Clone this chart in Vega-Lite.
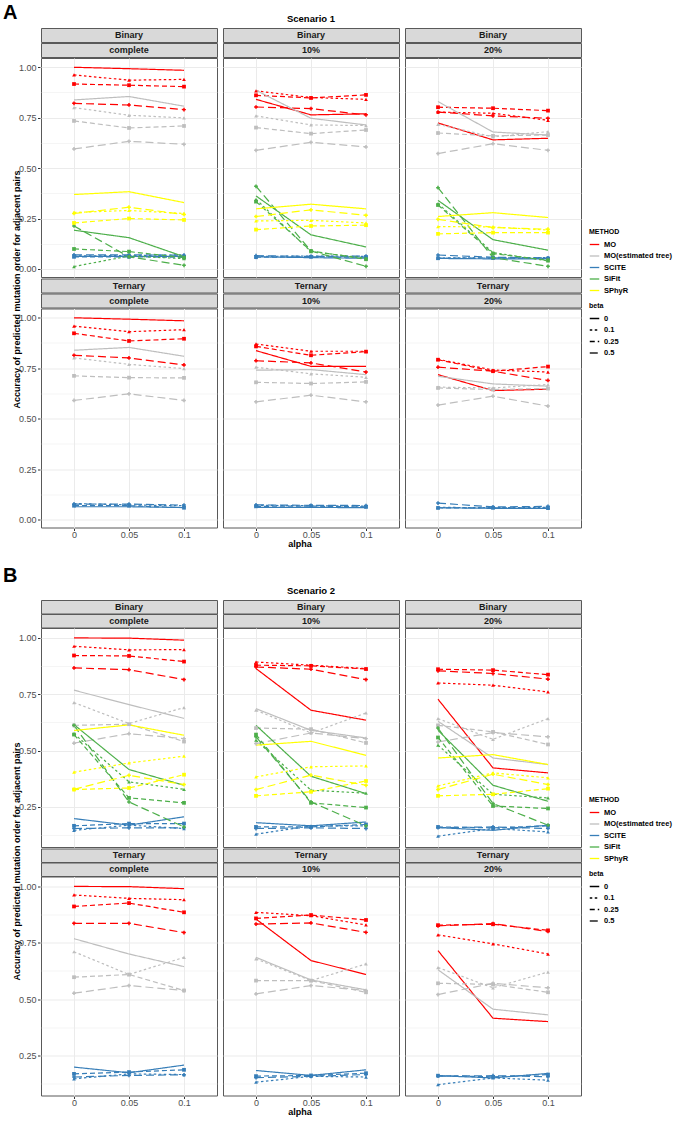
{
"$schema": "https://vega.github.io/schema/vega-lite/v6.json",
"background": "white",
"padding": {"left": 3, "top": 3, "right": 3, "bottom": 3},
"config": {
 "font": "Liberation Sans",
 "view": {"stroke": "#595959", "strokeWidth": 1},
 "axis": {"minExtent": 0, "labelFont": "Liberation Sans", "labelFontSize": 9, "labelColor": "#4D4D4D", "tickColor": "#333333", "tickSize": 2.5, "labelPadding": 1.5, "titleFont": "Liberation Sans", "titleFontSize": 9, "titleFontWeight": "bold", "titleColor": "#000000", "gridColor": "#EBEBEB", "domain": false},
 "axisY": {"minExtent": 0, "labelPadding": 1.5},
 "axisX": {"minExtent": 0, "labelPadding": 0, "tickSize": 2},
 "legend": {"titleFont": "Liberation Sans", "labelFont": "Liberation Sans", "titleFontSize": 7, "titleFontWeight": "bold", "labelFontSize": 7.5, "labelFontWeight": "bold", "labelColor": "#000000", "titleColor": "#000000", "symbolStrokeWidth": 1.3, "rowPadding": 2.5, "titlePadding": 4, "symbolSize": 90},
 "title": {"font": "Liberation Sans", "fontWeight": "bold", "color": "#000000"}
},
"datasets": {
"s1B": [
{"m":"complete","M":"MO","b":"0","a":"0","v":1},{"m":"complete","M":"MO","b":"0","a":"0.05","v":0.993},{"m":"complete","M":"MO","b":"0","a":"0.1","v":0.985},
{"m":"complete","M":"MO","b":"0.1","a":"0","v":0.962},{"m":"complete","M":"MO","b":"0.1","a":"0.05","v":0.936},{"m":"complete","M":"MO","b":"0.1","a":"0.1","v":0.94},
{"m":"complete","M":"MO","b":"0.25","a":"0","v":0.917},{"m":"complete","M":"MO","b":"0.25","a":"0.05","v":0.911},{"m":"complete","M":"MO","b":"0.25","a":"0.1","v":0.904},
{"m":"complete","M":"MO","b":"0.5","a":"0","v":0.821},{"m":"complete","M":"MO","b":"0.5","a":"0.05","v":0.813},{"m":"complete","M":"MO","b":"0.5","a":"0.1","v":0.79},
{"m":"complete","M":"MO(estimated tree)","b":"0","a":"0","v":0.838},{"m":"complete","M":"MO(estimated tree)","b":"0","a":"0.05","v":0.855},{"m":"complete","M":"MO(estimated tree)","b":"0","a":"0.1","v":0.807},
{"m":"complete","M":"MO(estimated tree)","b":"0.1","a":"0","v":0.8},{"m":"complete","M":"MO(estimated tree)","b":"0.1","a":"0.05","v":0.762},{"m":"complete","M":"MO(estimated tree)","b":"0.1","a":"0.1","v":0.749},
{"m":"complete","M":"MO(estimated tree)","b":"0.25","a":"0","v":0.734},{"m":"complete","M":"MO(estimated tree)","b":"0.25","a":"0.05","v":0.699},{"m":"complete","M":"MO(estimated tree)","b":"0.25","a":"0.1","v":0.709},
{"m":"complete","M":"MO(estimated tree)","b":"0.5","a":"0","v":0.595},{"m":"complete","M":"MO(estimated tree)","b":"0.5","a":"0.05","v":0.633},{"m":"complete","M":"MO(estimated tree)","b":"0.5","a":"0.1","v":0.618},
{"m":"complete","M":"SCITE","b":"0","a":"0","v":0.062},{"m":"complete","M":"SCITE","b":"0","a":"0.05","v":0.062},{"m":"complete","M":"SCITE","b":"0","a":"0.1","v":0.062},
{"m":"complete","M":"SCITE","b":"0.1","a":"0","v":0.065},{"m":"complete","M":"SCITE","b":"0.1","a":"0.05","v":0.066},{"m":"complete","M":"SCITE","b":"0.1","a":"0.1","v":0.07},
{"m":"complete","M":"SCITE","b":"0.25","a":"0","v":0.06},{"m":"complete","M":"SCITE","b":"0.25","a":"0.05","v":0.06},{"m":"complete","M":"SCITE","b":"0.25","a":"0.1","v":0.058},
{"m":"complete","M":"SCITE","b":"0.5","a":"0","v":0.07},{"m":"complete","M":"SCITE","b":"0.5","a":"0.05","v":0.07},{"m":"complete","M":"SCITE","b":"0.5","a":"0.1","v":0.068},
{"m":"complete","M":"SiFit","b":"0","a":"0","v":0.192},{"m":"complete","M":"SiFit","b":"0","a":"0.05","v":0.155},{"m":"complete","M":"SiFit","b":"0","a":"0.1","v":0.061},
{"m":"complete","M":"SiFit","b":"0.1","a":"0","v":0.012},{"m":"complete","M":"SiFit","b":"0.1","a":"0.05","v":0.064},{"m":"complete","M":"SiFit","b":"0.1","a":"0.1","v":0.051},
{"m":"complete","M":"SiFit","b":"0.25","a":"0","v":0.099},{"m":"complete","M":"SiFit","b":"0.25","a":"0.05","v":0.086},{"m":"complete","M":"SiFit","b":"0.25","a":"0.1","v":0.056},
{"m":"complete","M":"SiFit","b":"0.5","a":"0","v":0.213},{"m":"complete","M":"SiFit","b":"0.5","a":"0.05","v":0.06},{"m":"complete","M":"SiFit","b":"0.5","a":"0.1","v":0.018},
{"m":"complete","M":"SPhyR","b":"0","a":"0","v":0.369},{"m":"complete","M":"SPhyR","b":"0","a":"0.05","v":0.383},{"m":"complete","M":"SPhyR","b":"0","a":"0.1","v":0.329},
{"m":"complete","M":"SPhyR","b":"0.1","a":"0","v":0.28},{"m":"complete","M":"SPhyR","b":"0.1","a":"0.05","v":0.29},{"m":"complete","M":"SPhyR","b":"0.1","a":"0.1","v":0.275},
{"m":"complete","M":"SPhyR","b":"0.25","a":"0","v":0.228},{"m":"complete","M":"SPhyR","b":"0.25","a":"0.05","v":0.25},{"m":"complete","M":"SPhyR","b":"0.25","a":"0.1","v":0.243},
{"m":"complete","M":"SPhyR","b":"0.5","a":"0","v":0.275},{"m":"complete","M":"SPhyR","b":"0.5","a":"0.05","v":0.306},{"m":"complete","M":"SPhyR","b":"0.5","a":"0.1","v":0.27},
{"m":"10%","M":"MO","b":"0","a":"0","v":0.841},{"m":"10%","M":"MO","b":"0","a":"0.05","v":0.764},{"m":"10%","M":"MO","b":"0","a":"0.1","v":0.769},
{"m":"10%","M":"MO","b":"0.1","a":"0","v":0.883},{"m":"10%","M":"MO","b":"0.1","a":"0.05","v":0.85},{"m":"10%","M":"MO","b":"0.1","a":"0.1","v":0.841},
{"m":"10%","M":"MO","b":"0.25","a":"0","v":0.861},{"m":"10%","M":"MO","b":"0.25","a":"0.05","v":0.848},{"m":"10%","M":"MO","b":"0.25","a":"0.1","v":0.863},
{"m":"10%","M":"MO","b":"0.5","a":"0","v":0.803},{"m":"10%","M":"MO","b":"0.5","a":"0.05","v":0.795},{"m":"10%","M":"MO","b":"0.5","a":"0.1","v":0.764},
{"m":"10%","M":"MO(estimated tree)","b":"0","a":"0","v":0.886},{"m":"10%","M":"MO(estimated tree)","b":"0","a":"0.05","v":0.747},{"m":"10%","M":"MO(estimated tree)","b":"0","a":"0.1","v":0.714},
{"m":"10%","M":"MO(estimated tree)","b":"0.1","a":"0","v":0.759},{"m":"10%","M":"MO(estimated tree)","b":"0.1","a":"0.05","v":0.714},{"m":"10%","M":"MO(estimated tree)","b":"0.1","a":"0.1","v":0.711},
{"m":"10%","M":"MO(estimated tree)","b":"0.25","a":"0","v":0.701},{"m":"10%","M":"MO(estimated tree)","b":"0.25","a":"0.05","v":0.671},{"m":"10%","M":"MO(estimated tree)","b":"0.25","a":"0.1","v":0.689},
{"m":"10%","M":"MO(estimated tree)","b":"0.5","a":"0","v":0.588},{"m":"10%","M":"MO(estimated tree)","b":"0.5","a":"0.05","v":0.628},{"m":"10%","M":"MO(estimated tree)","b":"0.5","a":"0.1","v":0.605},
{"m":"10%","M":"SCITE","b":"0","a":"0","v":0.06},{"m":"10%","M":"SCITE","b":"0","a":"0.05","v":0.056},{"m":"10%","M":"SCITE","b":"0","a":"0.1","v":0.053},
{"m":"10%","M":"SCITE","b":"0.1","a":"0","v":0.062},{"m":"10%","M":"SCITE","b":"0.1","a":"0.05","v":0.064},{"m":"10%","M":"SCITE","b":"0.1","a":"0.1","v":0.062},
{"m":"10%","M":"SCITE","b":"0.25","a":"0","v":0.058},{"m":"10%","M":"SCITE","b":"0.25","a":"0.05","v":0.06},{"m":"10%","M":"SCITE","b":"0.25","a":"0.1","v":0.058},
{"m":"10%","M":"SCITE","b":"0.5","a":"0","v":0.066},{"m":"10%","M":"SCITE","b":"0.5","a":"0.05","v":0.062},{"m":"10%","M":"SCITE","b":"0.5","a":"0.1","v":0.064},
{"m":"10%","M":"SiFit","b":"0","a":"0","v":0.362},{"m":"10%","M":"SiFit","b":"0","a":"0.05","v":0.169},{"m":"10%","M":"SiFit","b":"0","a":"0.1","v":0.109},
{"m":"10%","M":"SiFit","b":"0.1","a":"0","v":0.345},{"m":"10%","M":"SiFit","b":"0.1","a":"0.05","v":0.086},{"m":"10%","M":"SiFit","b":"0.1","a":"0.1","v":0.053},
{"m":"10%","M":"SiFit","b":"0.25","a":"0","v":0.334},{"m":"10%","M":"SiFit","b":"0.25","a":"0.05","v":0.089},{"m":"10%","M":"SiFit","b":"0.25","a":"0.1","v":0.048},
{"m":"10%","M":"SiFit","b":"0.5","a":"0","v":0.41},{"m":"10%","M":"SiFit","b":"0.5","a":"0.05","v":0.089},{"m":"10%","M":"SiFit","b":"0.5","a":"0.1","v":0.013},
{"m":"10%","M":"SPhyR","b":"0","a":"0","v":0.298},{"m":"10%","M":"SPhyR","b":"0","a":"0.05","v":0.321},{"m":"10%","M":"SPhyR","b":"0","a":"0.1","v":0.298},
{"m":"10%","M":"SPhyR","b":"0.1","a":"0","v":0.238},{"m":"10%","M":"SPhyR","b":"0.1","a":"0.05","v":0.241},{"m":"10%","M":"SPhyR","b":"0.1","a":"0.1","v":0.228},
{"m":"10%","M":"SPhyR","b":"0.25","a":"0","v":0.195},{"m":"10%","M":"SPhyR","b":"0.25","a":"0.05","v":0.213},{"m":"10%","M":"SPhyR","b":"0.25","a":"0.1","v":0.217},
{"m":"10%","M":"SPhyR","b":"0.5","a":"0","v":0.26},{"m":"10%","M":"SPhyR","b":"0.5","a":"0.05","v":0.293},{"m":"10%","M":"SPhyR","b":"0.5","a":"0.1","v":0.266},
{"m":"20%","M":"MO","b":"0","a":"0","v":0.724},{"m":"20%","M":"MO","b":"0","a":"0.05","v":0.64},{"m":"20%","M":"MO","b":"0","a":"0.1","v":0.648},
{"m":"20%","M":"MO","b":"0.1","a":"0","v":0.778},{"m":"20%","M":"MO","b":"0.1","a":"0.05","v":0.772},{"m":"20%","M":"MO","b":"0.1","a":"0.1","v":0.737},
{"m":"20%","M":"MO","b":"0.25","a":"0","v":0.802},{"m":"20%","M":"MO","b":"0.25","a":"0.05","v":0.797},{"m":"20%","M":"MO","b":"0.25","a":"0.1","v":0.785},
{"m":"20%","M":"MO","b":"0.5","a":"0","v":0.778},{"m":"20%","M":"MO","b":"0.5","a":"0.05","v":0.759},{"m":"20%","M":"MO","b":"0.5","a":"0.1","v":0.747},
{"m":"20%","M":"MO(estimated tree)","b":"0","a":"0","v":0.83},{"m":"20%","M":"MO(estimated tree)","b":"0","a":"0.05","v":0.679},{"m":"20%","M":"MO(estimated tree)","b":"0","a":"0.1","v":0.664},
{"m":"20%","M":"MO(estimated tree)","b":"0.1","a":"0","v":0.717},{"m":"20%","M":"MO(estimated tree)","b":"0.1","a":"0.05","v":0.655},{"m":"20%","M":"MO(estimated tree)","b":"0.1","a":"0.1","v":0.681},
{"m":"20%","M":"MO(estimated tree)","b":"0.25","a":"0","v":0.674},{"m":"20%","M":"MO(estimated tree)","b":"0.25","a":"0.05","v":0.66},{"m":"20%","M":"MO(estimated tree)","b":"0.25","a":"0.1","v":0.664},
{"m":"20%","M":"MO(estimated tree)","b":"0.5","a":"0","v":0.572},{"m":"20%","M":"MO(estimated tree)","b":"0.5","a":"0.05","v":0.621},{"m":"20%","M":"MO(estimated tree)","b":"0.5","a":"0.1","v":0.588},
{"m":"20%","M":"SCITE","b":"0","a":"0","v":0.052},{"m":"20%","M":"SCITE","b":"0","a":"0.05","v":0.05},{"m":"20%","M":"SCITE","b":"0","a":"0.1","v":0.05},
{"m":"20%","M":"SCITE","b":"0.1","a":"0","v":0.055},{"m":"20%","M":"SCITE","b":"0.1","a":"0.05","v":0.054},{"m":"20%","M":"SCITE","b":"0.1","a":"0.1","v":0.056},
{"m":"20%","M":"SCITE","b":"0.25","a":"0","v":0.053},{"m":"20%","M":"SCITE","b":"0.25","a":"0.05","v":0.055},{"m":"20%","M":"SCITE","b":"0.25","a":"0.1","v":0.052},
{"m":"20%","M":"SCITE","b":"0.5","a":"0","v":0.069},{"m":"20%","M":"SCITE","b":"0.5","a":"0.05","v":0.058},{"m":"20%","M":"SCITE","b":"0.5","a":"0.1","v":0.055},
{"m":"20%","M":"SiFit","b":"0","a":"0","v":0.34},{"m":"20%","M":"SiFit","b":"0","a":"0.05","v":0.145},{"m":"20%","M":"SiFit","b":"0","a":"0.1","v":0.093},
{"m":"20%","M":"SiFit","b":"0.1","a":"0","v":0.324},{"m":"20%","M":"SiFit","b":"0.1","a":"0.05","v":0.081},{"m":"20%","M":"SiFit","b":"0.1","a":"0.1","v":0.04},
{"m":"20%","M":"SiFit","b":"0.25","a":"0","v":0.317},{"m":"20%","M":"SiFit","b":"0.25","a":"0.05","v":0.076},{"m":"20%","M":"SiFit","b":"0.25","a":"0.1","v":0.043},
{"m":"20%","M":"SiFit","b":"0.5","a":"0","v":0.403},{"m":"20%","M":"SiFit","b":"0.5","a":"0.05","v":0.056},{"m":"20%","M":"SiFit","b":"0.5","a":"0.1","v":0.013},
{"m":"20%","M":"SPhyR","b":"0","a":"0","v":0.26},{"m":"20%","M":"SPhyR","b":"0","a":"0.05","v":0.279},{"m":"20%","M":"SPhyR","b":"0","a":"0.1","v":0.255},
{"m":"20%","M":"SPhyR","b":"0.1","a":"0","v":0.21},{"m":"20%","M":"SPhyR","b":"0.1","a":"0.05","v":0.208},{"m":"20%","M":"SPhyR","b":"0.1","a":"0.1","v":0.193},
{"m":"20%","M":"SPhyR","b":"0.25","a":"0","v":0.174},{"m":"20%","M":"SPhyR","b":"0.25","a":"0.05","v":0.18},{"m":"20%","M":"SPhyR","b":"0.25","a":"0.1","v":0.18},
{"m":"20%","M":"SPhyR","b":"0.5","a":"0","v":0.246},{"m":"20%","M":"SPhyR","b":"0.5","a":"0.05","v":0.205},{"m":"20%","M":"SPhyR","b":"0.5","a":"0.1","v":0.197}
],
"s1T": [
{"m":"complete","M":"MO","b":"0","a":"0","v":1},{"m":"complete","M":"MO","b":"0","a":"0.05","v":0.993},{"m":"complete","M":"MO","b":"0","a":"0.1","v":0.985},
{"m":"complete","M":"MO","b":"0.1","a":"0","v":0.959},{"m":"complete","M":"MO","b":"0.1","a":"0.05","v":0.931},{"m":"complete","M":"MO","b":"0.1","a":"0.1","v":0.941},
{"m":"complete","M":"MO","b":"0.25","a":"0","v":0.923},{"m":"complete","M":"MO","b":"0.25","a":"0.05","v":0.885},{"m":"complete","M":"MO","b":"0.25","a":"0.1","v":0.896},
{"m":"complete","M":"MO","b":"0.5","a":"0","v":0.814},{"m":"complete","M":"MO","b":"0.5","a":"0.05","v":0.801},{"m":"complete","M":"MO","b":"0.5","a":"0.1","v":0.766},
{"m":"complete","M":"MO(estimated tree)","b":"0","a":"0","v":0.839},{"m":"complete","M":"MO(estimated tree)","b":"0","a":"0.05","v":0.853},{"m":"complete","M":"MO(estimated tree)","b":"0","a":"0.1","v":0.809},
{"m":"complete","M":"MO(estimated tree)","b":"0.1","a":"0","v":0.801},{"m":"complete","M":"MO(estimated tree)","b":"0.1","a":"0.05","v":0.769},{"m":"complete","M":"MO(estimated tree)","b":"0.1","a":"0.1","v":0.748},
{"m":"complete","M":"MO(estimated tree)","b":"0.25","a":"0","v":0.712},{"m":"complete","M":"MO(estimated tree)","b":"0.25","a":"0.05","v":0.703},{"m":"complete","M":"MO(estimated tree)","b":"0.25","a":"0.1","v":0.702},
{"m":"complete","M":"MO(estimated tree)","b":"0.5","a":"0","v":0.59},{"m":"complete","M":"MO(estimated tree)","b":"0.5","a":"0.05","v":0.623},{"m":"complete","M":"MO(estimated tree)","b":"0.5","a":"0.1","v":0.59},
{"m":"complete","M":"SCITE","b":"0","a":"0","v":0.063},{"m":"complete","M":"SCITE","b":"0","a":"0.05","v":0.063},{"m":"complete","M":"SCITE","b":"0","a":"0.1","v":0.059},
{"m":"complete","M":"SCITE","b":"0.1","a":"0","v":0.079},{"m":"complete","M":"SCITE","b":"0.1","a":"0.05","v":0.072},{"m":"complete","M":"SCITE","b":"0.1","a":"0.1","v":0.068},
{"m":"complete","M":"SCITE","b":"0.25","a":"0","v":0.068},{"m":"complete","M":"SCITE","b":"0.25","a":"0.05","v":0.068},{"m":"complete","M":"SCITE","b":"0.25","a":"0.1","v":0.058},
{"m":"complete","M":"SCITE","b":"0.5","a":"0","v":0.076},{"m":"complete","M":"SCITE","b":"0.5","a":"0.05","v":0.076},{"m":"complete","M":"SCITE","b":"0.5","a":"0.1","v":0.071},
{"m":"10%","M":"MO","b":"0","a":"0","v":0.837},{"m":"10%","M":"MO","b":"0","a":"0.05","v":0.759},{"m":"10%","M":"MO","b":"0","a":"0.1","v":0.759},
{"m":"10%","M":"MO","b":"0.1","a":"0","v":0.87},{"m":"10%","M":"MO","b":"0.1","a":"0.05","v":0.834},{"m":"10%","M":"MO","b":"0.1","a":"0.1","v":0.834},
{"m":"10%","M":"MO","b":"0.25","a":"0","v":0.858},{"m":"10%","M":"MO","b":"0.25","a":"0.05","v":0.814},{"m":"10%","M":"MO","b":"0.25","a":"0.1","v":0.832},
{"m":"10%","M":"MO","b":"0.5","a":"0","v":0.787},{"m":"10%","M":"MO","b":"0.5","a":"0.05","v":0.776},{"m":"10%","M":"MO","b":"0.5","a":"0.1","v":0.731},
{"m":"10%","M":"MO(estimated tree)","b":"0","a":"0","v":0.74},{"m":"10%","M":"MO(estimated tree)","b":"0","a":"0.05","v":0.743},{"m":"10%","M":"MO(estimated tree)","b":"0","a":"0.1","v":0.718},
{"m":"10%","M":"MO(estimated tree)","b":"0.1","a":"0","v":0.755},{"m":"10%","M":"MO(estimated tree)","b":"0.1","a":"0.05","v":0.722},{"m":"10%","M":"MO(estimated tree)","b":"0.1","a":"0.1","v":0.705},
{"m":"10%","M":"MO(estimated tree)","b":"0.25","a":"0","v":0.68},{"m":"10%","M":"MO(estimated tree)","b":"0.25","a":"0.05","v":0.674},{"m":"10%","M":"MO(estimated tree)","b":"0.25","a":"0.1","v":0.682},
{"m":"10%","M":"MO(estimated tree)","b":"0.5","a":"0","v":0.583},{"m":"10%","M":"MO(estimated tree)","b":"0.5","a":"0.05","v":0.616},{"m":"10%","M":"MO(estimated tree)","b":"0.5","a":"0.1","v":0.583},
{"m":"10%","M":"SCITE","b":"0","a":"0","v":0.06},{"m":"10%","M":"SCITE","b":"0","a":"0.05","v":0.06},{"m":"10%","M":"SCITE","b":"0","a":"0.1","v":0.058},
{"m":"10%","M":"SCITE","b":"0.1","a":"0","v":0.07},{"m":"10%","M":"SCITE","b":"0.1","a":"0.05","v":0.068},{"m":"10%","M":"SCITE","b":"0.1","a":"0.1","v":0.066},
{"m":"10%","M":"SCITE","b":"0.25","a":"0","v":0.065},{"m":"10%","M":"SCITE","b":"0.25","a":"0.05","v":0.066},{"m":"10%","M":"SCITE","b":"0.25","a":"0.1","v":0.062},
{"m":"10%","M":"SCITE","b":"0.5","a":"0","v":0.072},{"m":"10%","M":"SCITE","b":"0.5","a":"0.05","v":0.07},{"m":"10%","M":"SCITE","b":"0.5","a":"0.1","v":0.069},
{"m":"20%","M":"MO","b":"0","a":"0","v":0.718},{"m":"20%","M":"MO","b":"0","a":"0.05","v":0.639},{"m":"20%","M":"MO","b":"0","a":"0.1","v":0.646},
{"m":"20%","M":"MO","b":"0.1","a":"0","v":0.794},{"m":"20%","M":"MO","b":"0.1","a":"0.05","v":0.741},{"m":"20%","M":"MO","b":"0.1","a":"0.1","v":0.731},
{"m":"20%","M":"MO","b":"0.25","a":"0","v":0.792},{"m":"20%","M":"MO","b":"0.25","a":"0.05","v":0.735},{"m":"20%","M":"MO","b":"0.25","a":"0.1","v":0.758},
{"m":"20%","M":"MO","b":"0.5","a":"0","v":0.755},{"m":"20%","M":"MO","b":"0.5","a":"0.05","v":0.735},{"m":"20%","M":"MO","b":"0.5","a":"0.1","v":0.689},
{"m":"20%","M":"MO(estimated tree)","b":"0","a":"0","v":0.71},{"m":"20%","M":"MO(estimated tree)","b":"0","a":"0.05","v":0.672},{"m":"20%","M":"MO(estimated tree)","b":"0","a":"0.1","v":0.661},
{"m":"20%","M":"MO(estimated tree)","b":"0.1","a":"0","v":0.656},{"m":"20%","M":"MO(estimated tree)","b":"0.1","a":"0.05","v":0.652},{"m":"20%","M":"MO(estimated tree)","b":"0.1","a":"0.1","v":0.669},
{"m":"20%","M":"MO(estimated tree)","b":"0.25","a":"0","v":0.652},{"m":"20%","M":"MO(estimated tree)","b":"0.25","a":"0.05","v":0.644},{"m":"20%","M":"MO(estimated tree)","b":"0.25","a":"0.1","v":0.649},
{"m":"20%","M":"MO(estimated tree)","b":"0.5","a":"0","v":0.567},{"m":"20%","M":"MO(estimated tree)","b":"0.5","a":"0.05","v":0.611},{"m":"20%","M":"MO(estimated tree)","b":"0.5","a":"0.1","v":0.562},
{"m":"20%","M":"SCITE","b":"0","a":"0","v":0.058},{"m":"20%","M":"SCITE","b":"0","a":"0.05","v":0.055},{"m":"20%","M":"SCITE","b":"0","a":"0.1","v":0.055},
{"m":"20%","M":"SCITE","b":"0.1","a":"0","v":0.06},{"m":"20%","M":"SCITE","b":"0.1","a":"0.05","v":0.058},{"m":"20%","M":"SCITE","b":"0.1","a":"0.1","v":0.06},
{"m":"20%","M":"SCITE","b":"0.25","a":"0","v":0.057},{"m":"20%","M":"SCITE","b":"0.25","a":"0.05","v":0.058},{"m":"20%","M":"SCITE","b":"0.25","a":"0.1","v":0.056},
{"m":"20%","M":"SCITE","b":"0.5","a":"0","v":0.081},{"m":"20%","M":"SCITE","b":"0.5","a":"0.05","v":0.062},{"m":"20%","M":"SCITE","b":"0.5","a":"0.1","v":0.065}
],
"s2B": [
{"m":"complete","M":"MO","b":"0","a":"0","v":1},{"m":"complete","M":"MO","b":"0","a":"0.05","v":0.999},{"m":"complete","M":"MO","b":"0","a":"0.1","v":0.99},
{"m":"complete","M":"MO","b":"0.1","a":"0","v":0.963},{"m":"complete","M":"MO","b":"0.1","a":"0.05","v":0.947},{"m":"complete","M":"MO","b":"0.1","a":"0.1","v":0.948},
{"m":"complete","M":"MO","b":"0.25","a":"0","v":0.922},{"m":"complete","M":"MO","b":"0.25","a":"0.05","v":0.92},{"m":"complete","M":"MO","b":"0.25","a":"0.1","v":0.895},
{"m":"complete","M":"MO","b":"0.5","a":"0","v":0.867},{"m":"complete","M":"MO","b":"0.5","a":"0.05","v":0.859},{"m":"complete","M":"MO","b":"0.5","a":"0.1","v":0.815},
{"m":"complete","M":"MO(estimated tree)","b":"0","a":"0","v":0.768},{"m":"complete","M":"MO(estimated tree)","b":"0","a":"0.05","v":0.704},{"m":"complete","M":"MO(estimated tree)","b":"0","a":"0.1","v":0.643},
{"m":"complete","M":"MO(estimated tree)","b":"0.1","a":"0","v":0.713},{"m":"complete","M":"MO(estimated tree)","b":"0.1","a":"0.05","v":0.62},{"m":"complete","M":"MO(estimated tree)","b":"0.1","a":"0.1","v":0.691},
{"m":"complete","M":"MO(estimated tree)","b":"0.25","a":"0","v":0.612},{"m":"complete","M":"MO(estimated tree)","b":"0.25","a":"0.05","v":0.617},{"m":"complete","M":"MO(estimated tree)","b":"0.25","a":"0.1","v":0.54},
{"m":"complete","M":"MO(estimated tree)","b":"0.5","a":"0","v":0.533},{"m":"complete","M":"MO(estimated tree)","b":"0.5","a":"0.05","v":0.575},{"m":"complete","M":"MO(estimated tree)","b":"0.5","a":"0.1","v":0.553},
{"m":"complete","M":"SCITE","b":"0","a":"0","v":0.198},{"m":"complete","M":"SCITE","b":"0","a":"0.05","v":0.169},{"m":"complete","M":"SCITE","b":"0","a":"0.1","v":0.206},
{"m":"complete","M":"SCITE","b":"0.1","a":"0","v":0.146},{"m":"complete","M":"SCITE","b":"0.1","a":"0.05","v":0.169},{"m":"complete","M":"SCITE","b":"0.1","a":"0.1","v":0.154},
{"m":"complete","M":"SCITE","b":"0.25","a":"0","v":0.166},{"m":"complete","M":"SCITE","b":"0.25","a":"0.05","v":0.176},{"m":"complete","M":"SCITE","b":"0.25","a":"0.1","v":0.176},
{"m":"complete","M":"SCITE","b":"0.5","a":"0","v":0.154},{"m":"complete","M":"SCITE","b":"0.5","a":"0.05","v":0.157},{"m":"complete","M":"SCITE","b":"0.5","a":"0.1","v":0.157},
{"m":"complete","M":"SiFit","b":"0","a":"0","v":0.615},{"m":"complete","M":"SiFit","b":"0","a":"0.05","v":0.416},{"m":"complete","M":"SiFit","b":"0","a":"0.1","v":0.346},
{"m":"complete","M":"SiFit","b":"0.1","a":"0","v":0.575},{"m":"complete","M":"SiFit","b":"0.1","a":"0.05","v":0.361},{"m":"complete","M":"SiFit","b":"0.1","a":"0.1","v":0.328},
{"m":"complete","M":"SiFit","b":"0.25","a":"0","v":0.571},{"m":"complete","M":"SiFit","b":"0.25","a":"0.05","v":0.29},{"m":"complete","M":"SiFit","b":"0.25","a":"0.1","v":0.268},
{"m":"complete","M":"SiFit","b":"0.5","a":"0","v":0.612},{"m":"complete","M":"SiFit","b":"0.5","a":"0.05","v":0.272},{"m":"complete","M":"SiFit","b":"0.5","a":"0.1","v":0.161},
{"m":"complete","M":"SPhyR","b":"0","a":"0","v":0.589},{"m":"complete","M":"SPhyR","b":"0","a":"0.05","v":0.614},{"m":"complete","M":"SPhyR","b":"0","a":"0.1","v":0.568},
{"m":"complete","M":"SPhyR","b":"0.1","a":"0","v":0.404},{"m":"complete","M":"SPhyR","b":"0.1","a":"0.05","v":0.445},{"m":"complete","M":"SPhyR","b":"0.1","a":"0.1","v":0.475},
{"m":"complete","M":"SPhyR","b":"0.25","a":"0","v":0.327},{"m":"complete","M":"SPhyR","b":"0.25","a":"0.05","v":0.334},{"m":"complete","M":"SPhyR","b":"0.25","a":"0.1","v":0.393},
{"m":"complete","M":"SPhyR","b":"0.5","a":"0","v":0.328},{"m":"complete","M":"SPhyR","b":"0.5","a":"0.05","v":0.39},{"m":"complete","M":"SPhyR","b":"0.5","a":"0.1","v":0.349},
{"m":"10%","M":"MO","b":"0","a":"0","v":0.864},{"m":"10%","M":"MO","b":"0","a":"0.05","v":0.679},{"m":"10%","M":"MO","b":"0","a":"0.1","v":0.635},
{"m":"10%","M":"MO","b":"0.1","a":"0","v":0.893},{"m":"10%","M":"MO","b":"0.1","a":"0.05","v":0.879},{"m":"10%","M":"MO","b":"0.1","a":"0.1","v":0.864},
{"m":"10%","M":"MO","b":"0.25","a":"0","v":0.879},{"m":"10%","M":"MO","b":"0.25","a":"0.05","v":0.876},{"m":"10%","M":"MO","b":"0.25","a":"0.1","v":0.862},
{"m":"10%","M":"MO","b":"0.5","a":"0","v":0.871},{"m":"10%","M":"MO","b":"0.5","a":"0.05","v":0.861},{"m":"10%","M":"MO","b":"0.5","a":"0.1","v":0.815},
{"m":"10%","M":"MO(estimated tree)","b":"0","a":"0","v":0.686},{"m":"10%","M":"MO(estimated tree)","b":"0","a":"0.05","v":0.59},{"m":"10%","M":"MO(estimated tree)","b":"0","a":"0.1","v":0.556},
{"m":"10%","M":"MO(estimated tree)","b":"0.1","a":"0","v":0.679},{"m":"10%","M":"MO(estimated tree)","b":"0.1","a":"0.05","v":0.578},{"m":"10%","M":"MO(estimated tree)","b":"0.1","a":"0.1","v":0.667},
{"m":"10%","M":"MO(estimated tree)","b":"0.25","a":"0","v":0.6},{"m":"10%","M":"MO(estimated tree)","b":"0.25","a":"0.05","v":0.595},{"m":"10%","M":"MO(estimated tree)","b":"0.25","a":"0.1","v":0.534},
{"m":"10%","M":"MO(estimated tree)","b":"0.5","a":"0","v":0.531},{"m":"10%","M":"MO(estimated tree)","b":"0.5","a":"0.05","v":0.578},{"m":"10%","M":"MO(estimated tree)","b":"0.5","a":"0.1","v":0.553},
{"m":"10%","M":"SCITE","b":"0","a":"0","v":0.18},{"m":"10%","M":"SCITE","b":"0","a":"0.05","v":0.166},{"m":"10%","M":"SCITE","b":"0","a":"0.1","v":0.183},
{"m":"10%","M":"SCITE","b":"0.1","a":"0","v":0.129},{"m":"10%","M":"SCITE","b":"0.1","a":"0.05","v":0.166},{"m":"10%","M":"SCITE","b":"0.1","a":"0.1","v":0.166},
{"m":"10%","M":"SCITE","b":"0.25","a":"0","v":0.161},{"m":"10%","M":"SCITE","b":"0.25","a":"0.05","v":0.161},{"m":"10%","M":"SCITE","b":"0.25","a":"0.1","v":0.172},
{"m":"10%","M":"SCITE","b":"0.5","a":"0","v":0.154},{"m":"10%","M":"SCITE","b":"0.5","a":"0.05","v":0.157},{"m":"10%","M":"SCITE","b":"0.5","a":"0.1","v":0.154},
{"m":"10%","M":"SiFit","b":"0","a":"0","v":0.612},{"m":"10%","M":"SiFit","b":"0","a":"0.05","v":0.386},{"m":"10%","M":"SiFit","b":"0","a":"0.1","v":0.309},
{"m":"10%","M":"SiFit","b":"0.1","a":"0","v":0.546},{"m":"10%","M":"SiFit","b":"0.1","a":"0.05","v":0.324},{"m":"10%","M":"SiFit","b":"0.1","a":"0.1","v":0.311},
{"m":"10%","M":"SiFit","b":"0.25","a":"0","v":0.571},{"m":"10%","M":"SiFit","b":"0.25","a":"0.05","v":0.268},{"m":"10%","M":"SiFit","b":"0.25","a":"0.1","v":0.247},
{"m":"10%","M":"SiFit","b":"0.5","a":"0","v":0.561},{"m":"10%","M":"SiFit","b":"0.5","a":"0.05","v":0.272},{"m":"10%","M":"SiFit","b":"0.5","a":"0.1","v":0.166},
{"m":"10%","M":"SPhyR","b":"0","a":"0","v":0.524},{"m":"10%","M":"SPhyR","b":"0","a":"0.05","v":0.541},{"m":"10%","M":"SPhyR","b":"0","a":"0.1","v":0.479},
{"m":"10%","M":"SPhyR","b":"0.1","a":"0","v":0.383},{"m":"10%","M":"SPhyR","b":"0.1","a":"0.05","v":0.428},{"m":"10%","M":"SPhyR","b":"0.1","a":"0.1","v":0.432},
{"m":"10%","M":"SPhyR","b":"0.25","a":"0","v":0.299},{"m":"10%","M":"SPhyR","b":"0.25","a":"0.05","v":0.317},{"m":"10%","M":"SPhyR","b":"0.25","a":"0.1","v":0.365},
{"m":"10%","M":"SPhyR","b":"0.5","a":"0","v":0.327},{"m":"10%","M":"SPhyR","b":"0.5","a":"0.05","v":0.391},{"m":"10%","M":"SPhyR","b":"0.5","a":"0.1","v":0.346},
{"m":"20%","M":"MO","b":"0","a":"0","v":0.728},{"m":"20%","M":"MO","b":"0","a":"0.05","v":0.423},{"m":"20%","M":"MO","b":"0","a":"0.1","v":0.401},
{"m":"20%","M":"MO","b":"0.1","a":"0","v":0.8},{"m":"20%","M":"MO","b":"0.1","a":"0.05","v":0.79},{"m":"20%","M":"MO","b":"0.1","a":"0.1","v":0.76},
{"m":"20%","M":"MO","b":"0.25","a":"0","v":0.861},{"m":"20%","M":"MO","b":"0.25","a":"0.05","v":0.857},{"m":"20%","M":"MO","b":"0.25","a":"0.1","v":0.837},
{"m":"20%","M":"MO","b":"0.5","a":"0","v":0.854},{"m":"20%","M":"MO","b":"0.5","a":"0.05","v":0.842},{"m":"20%","M":"MO","b":"0.5","a":"0.1","v":0.817},
{"m":"20%","M":"MO(estimated tree)","b":"0","a":"0","v":0.63},{"m":"20%","M":"MO(estimated tree)","b":"0","a":"0.05","v":0.467},{"m":"20%","M":"MO(estimated tree)","b":"0","a":"0.1","v":0.438},
{"m":"20%","M":"MO(estimated tree)","b":"0.1","a":"0","v":0.642},{"m":"20%","M":"MO(estimated tree)","b":"0.1","a":"0.05","v":0.55},{"m":"20%","M":"MO(estimated tree)","b":"0.1","a":"0.1","v":0.642},
{"m":"20%","M":"MO(estimated tree)","b":"0.25","a":"0","v":0.612},{"m":"20%","M":"MO(estimated tree)","b":"0.25","a":"0.05","v":0.583},{"m":"20%","M":"MO(estimated tree)","b":"0.25","a":"0.1","v":0.527},
{"m":"20%","M":"MO(estimated tree)","b":"0.5","a":"0","v":0.538},{"m":"20%","M":"MO(estimated tree)","b":"0.5","a":"0.05","v":0.58},{"m":"20%","M":"MO(estimated tree)","b":"0.5","a":"0.1","v":0.561},
{"m":"20%","M":"SCITE","b":"0","a":"0","v":0.158},{"m":"20%","M":"SCITE","b":"0","a":"0.05","v":0.146},{"m":"20%","M":"SCITE","b":"0","a":"0.1","v":0.169},
{"m":"20%","M":"SCITE","b":"0.1","a":"0","v":0.12},{"m":"20%","M":"SCITE","b":"0.1","a":"0.05","v":0.154},{"m":"20%","M":"SCITE","b":"0.1","a":"0.1","v":0.139},
{"m":"20%","M":"SCITE","b":"0.25","a":"0","v":0.161},{"m":"20%","M":"SCITE","b":"0.25","a":"0.05","v":0.157},{"m":"20%","M":"SCITE","b":"0.25","a":"0.1","v":0.166},
{"m":"20%","M":"SCITE","b":"0.5","a":"0","v":0.158},{"m":"20%","M":"SCITE","b":"0.5","a":"0.05","v":0.161},{"m":"20%","M":"SCITE","b":"0.5","a":"0.1","v":0.154},
{"m":"20%","M":"SiFit","b":"0","a":"0","v":0.59},{"m":"20%","M":"SiFit","b":"0","a":"0.05","v":0.346},{"m":"20%","M":"SiFit","b":"0","a":"0.1","v":0.275},
{"m":"20%","M":"SiFit","b":"0.1","a":"0","v":0.524},{"m":"20%","M":"SiFit","b":"0.1","a":"0.05","v":0.306},{"m":"20%","M":"SiFit","b":"0.1","a":"0.1","v":0.29},
{"m":"20%","M":"SiFit","b":"0.25","a":"0","v":0.558},{"m":"20%","M":"SiFit","b":"0.25","a":"0.05","v":0.254},{"m":"20%","M":"SiFit","b":"0.25","a":"0.1","v":0.243},
{"m":"20%","M":"SiFit","b":"0.5","a":"0","v":0.6},{"m":"20%","M":"SiFit","b":"0.5","a":"0.05","v":0.265},{"m":"20%","M":"SiFit","b":"0.5","a":"0.1","v":0.169},
{"m":"20%","M":"SPhyR","b":"0","a":"0","v":0.467},{"m":"20%","M":"SPhyR","b":"0","a":"0.05","v":0.482},{"m":"20%","M":"SPhyR","b":"0","a":"0.1","v":0.438},
{"m":"20%","M":"SPhyR","b":"0.1","a":"0","v":0.343},{"m":"20%","M":"SPhyR","b":"0.1","a":"0.05","v":0.401},{"m":"20%","M":"SPhyR","b":"0.1","a":"0.1","v":0.379},
{"m":"20%","M":"SPhyR","b":"0.25","a":"0","v":0.299},{"m":"20%","M":"SPhyR","b":"0.25","a":"0.05","v":0.306},{"m":"20%","M":"SPhyR","b":"0.25","a":"0.1","v":0.331},
{"m":"20%","M":"SPhyR","b":"0.5","a":"0","v":0.327},{"m":"20%","M":"SPhyR","b":"0.5","a":"0.05","v":0.395},{"m":"20%","M":"SPhyR","b":"0.5","a":"0.1","v":0.349}
],
"s2T": [
{"m":"complete","M":"MO","b":"0","a":"0","v":1},{"m":"complete","M":"MO","b":"0","a":"0.05","v":0.999},{"m":"complete","M":"MO","b":"0","a":"0.1","v":0.99},
{"m":"complete","M":"MO","b":"0.1","a":"0","v":0.962},{"m":"complete","M":"MO","b":"0.1","a":"0.05","v":0.947},{"m":"complete","M":"MO","b":"0.1","a":"0.1","v":0.941},
{"m":"complete","M":"MO","b":"0.25","a":"0","v":0.911},{"m":"complete","M":"MO","b":"0.25","a":"0.05","v":0.926},{"m":"complete","M":"MO","b":"0.25","a":"0.1","v":0.885},
{"m":"complete","M":"MO","b":"0.5","a":"0","v":0.836},{"m":"complete","M":"MO","b":"0.5","a":"0.05","v":0.836},{"m":"complete","M":"MO","b":"0.5","a":"0.1","v":0.795},
{"m":"complete","M":"MO(estimated tree)","b":"0","a":"0","v":0.768},{"m":"complete","M":"MO(estimated tree)","b":"0","a":"0.05","v":0.7},{"m":"complete","M":"MO(estimated tree)","b":"0","a":"0.1","v":0.644},
{"m":"complete","M":"MO(estimated tree)","b":"0.1","a":"0","v":0.71},{"m":"complete","M":"MO(estimated tree)","b":"0.1","a":"0.05","v":0.609},{"m":"complete","M":"MO(estimated tree)","b":"0.1","a":"0.1","v":0.685},
{"m":"complete","M":"MO(estimated tree)","b":"0.25","a":"0","v":0.597},{"m":"complete","M":"MO(estimated tree)","b":"0.25","a":"0.05","v":0.609},{"m":"complete","M":"MO(estimated tree)","b":"0.25","a":"0.1","v":0.538},
{"m":"complete","M":"MO(estimated tree)","b":"0.5","a":"0","v":0.526},{"m":"complete","M":"MO(estimated tree)","b":"0.5","a":"0.05","v":0.56},{"m":"complete","M":"MO(estimated tree)","b":"0.5","a":"0.1","v":0.538},
{"m":"complete","M":"SCITE","b":"0","a":"0","v":0.198},{"m":"complete","M":"SCITE","b":"0","a":"0.05","v":0.173},{"m":"complete","M":"SCITE","b":"0","a":"0.1","v":0.207},
{"m":"complete","M":"SCITE","b":"0.1","a":"0","v":0.146},{"m":"complete","M":"SCITE","b":"0.1","a":"0.05","v":0.168},{"m":"complete","M":"SCITE","b":"0.1","a":"0.1","v":0.165},
{"m":"complete","M":"SCITE","b":"0.25","a":"0","v":0.168},{"m":"complete","M":"SCITE","b":"0.25","a":"0.05","v":0.176},{"m":"complete","M":"SCITE","b":"0.25","a":"0.1","v":0.186},
{"m":"complete","M":"SCITE","b":"0.5","a":"0","v":0.154},{"m":"complete","M":"SCITE","b":"0.5","a":"0.05","v":0.161},{"m":"complete","M":"SCITE","b":"0.5","a":"0.1","v":0.164},
{"m":"10%","M":"MO","b":"0","a":"0","v":0.855},{"m":"10%","M":"MO","b":"0","a":"0.05","v":0.671},{"m":"10%","M":"MO","b":"0","a":"0.1","v":0.609},
{"m":"10%","M":"MO","b":"0.1","a":"0","v":0.885},{"m":"10%","M":"MO","b":"0.1","a":"0.05","v":0.87},{"m":"10%","M":"MO","b":"0.1","a":"0.1","v":0.829},
{"m":"10%","M":"MO","b":"0.25","a":"0","v":0.858},{"m":"10%","M":"MO","b":"0.25","a":"0.05","v":0.873},{"m":"10%","M":"MO","b":"0.25","a":"0.1","v":0.851},
{"m":"10%","M":"MO","b":"0.5","a":"0","v":0.833},{"m":"10%","M":"MO","b":"0.5","a":"0.05","v":0.838},{"m":"10%","M":"MO","b":"0.5","a":"0.1","v":0.796},
{"m":"10%","M":"MO(estimated tree)","b":"0","a":"0","v":0.685},{"m":"10%","M":"MO(estimated tree)","b":"0","a":"0.05","v":0.585},{"m":"10%","M":"MO(estimated tree)","b":"0","a":"0.1","v":0.541},
{"m":"10%","M":"MO(estimated tree)","b":"0.1","a":"0","v":0.678},{"m":"10%","M":"MO(estimated tree)","b":"0.1","a":"0.05","v":0.582},{"m":"10%","M":"MO(estimated tree)","b":"0.1","a":"0.1","v":0.656},
{"m":"10%","M":"MO(estimated tree)","b":"0.25","a":"0","v":0.582},{"m":"10%","M":"MO(estimated tree)","b":"0.25","a":"0.05","v":0.582},{"m":"10%","M":"MO(estimated tree)","b":"0.25","a":"0.1","v":0.53},
{"m":"10%","M":"MO(estimated tree)","b":"0.5","a":"0","v":0.523},{"m":"10%","M":"MO(estimated tree)","b":"0.5","a":"0.05","v":0.56},{"m":"10%","M":"MO(estimated tree)","b":"0.5","a":"0.1","v":0.538},
{"m":"10%","M":"SCITE","b":"0","a":"0","v":0.183},{"m":"10%","M":"SCITE","b":"0","a":"0.05","v":0.161},{"m":"10%","M":"SCITE","b":"0","a":"0.1","v":0.186},
{"m":"10%","M":"SCITE","b":"0.1","a":"0","v":0.131},{"m":"10%","M":"SCITE","b":"0.1","a":"0.05","v":0.157},{"m":"10%","M":"SCITE","b":"0.1","a":"0.1","v":0.154},
{"m":"10%","M":"SCITE","b":"0.25","a":"0","v":0.158},{"m":"10%","M":"SCITE","b":"0.25","a":"0.05","v":0.161},{"m":"10%","M":"SCITE","b":"0.25","a":"0.1","v":0.171},
{"m":"10%","M":"SCITE","b":"0.5","a":"0","v":0.151},{"m":"10%","M":"SCITE","b":"0.5","a":"0.05","v":0.157},{"m":"10%","M":"SCITE","b":"0.5","a":"0.1","v":0.165},
{"m":"20%","M":"MO","b":"0","a":"0","v":0.715},{"m":"20%","M":"MO","b":"0","a":"0.05","v":0.415},{"m":"20%","M":"MO","b":"0","a":"0.1","v":0.4},
{"m":"20%","M":"MO","b":"0.1","a":"0","v":0.785},{"m":"20%","M":"MO","b":"0.1","a":"0.05","v":0.745},{"m":"20%","M":"MO","b":"0.1","a":"0.1","v":0.7},
{"m":"20%","M":"MO","b":"0.25","a":"0","v":0.828},{"m":"20%","M":"MO","b":"0.25","a":"0.05","v":0.832},{"m":"20%","M":"MO","b":"0.25","a":"0.1","v":0.805},
{"m":"20%","M":"MO","b":"0.5","a":"0","v":0.825},{"m":"20%","M":"MO","b":"0.5","a":"0.05","v":0.835},{"m":"20%","M":"MO","b":"0.5","a":"0.1","v":0.8},
{"m":"20%","M":"MO(estimated tree)","b":"0","a":"0","v":0.63},{"m":"20%","M":"MO(estimated tree)","b":"0","a":"0.05","v":0.455},{"m":"20%","M":"MO(estimated tree)","b":"0","a":"0.1","v":0.43},
{"m":"20%","M":"MO(estimated tree)","b":"0.1","a":"0","v":0.64},{"m":"20%","M":"MO(estimated tree)","b":"0.1","a":"0.05","v":0.55},{"m":"20%","M":"MO(estimated tree)","b":"0.1","a":"0.1","v":0.62},
{"m":"20%","M":"MO(estimated tree)","b":"0.25","a":"0","v":0.57},{"m":"20%","M":"MO(estimated tree)","b":"0.25","a":"0.05","v":0.565},{"m":"20%","M":"MO(estimated tree)","b":"0.25","a":"0.1","v":0.53},
{"m":"20%","M":"MO(estimated tree)","b":"0.5","a":"0","v":0.52},{"m":"20%","M":"MO(estimated tree)","b":"0.5","a":"0.05","v":0.57},{"m":"20%","M":"MO(estimated tree)","b":"0.5","a":"0.1","v":0.55},
{"m":"20%","M":"SCITE","b":"0","a":"0","v":0.16},{"m":"20%","M":"SCITE","b":"0","a":"0.05","v":0.15},{"m":"20%","M":"SCITE","b":"0","a":"0.1","v":0.17},
{"m":"20%","M":"SCITE","b":"0.1","a":"0","v":0.12},{"m":"20%","M":"SCITE","b":"0.1","a":"0.05","v":0.15},{"m":"20%","M":"SCITE","b":"0.1","a":"0.1","v":0.14},
{"m":"20%","M":"SCITE","b":"0.25","a":"0","v":0.16},{"m":"20%","M":"SCITE","b":"0.25","a":"0.05","v":0.155},{"m":"20%","M":"SCITE","b":"0.25","a":"0.1","v":0.165},
{"m":"20%","M":"SCITE","b":"0.5","a":"0","v":0.158},{"m":"20%","M":"SCITE","b":"0.5","a":"0.05","v":0.16},{"m":"20%","M":"SCITE","b":"0.5","a":"0.1","v":0.155}
]
},
"resolve": {"scale": {"color": "independent", "strokeDash": "independent", "shape": "independent"}},
"spacing": 17,
"vconcat": [
{
 "spacing": -7,
 "hconcat": [
  {"title": {"text": "A", "anchor": "start", "fontSize": 20, "offset": 5, "dx": -6}, "width": 16, "height": 497, "view": {"stroke": null}, "data": {"values": [{"y": "Accuracy of predicted mutation order for adjacent pairs"}]}, "mark": {"type": "text", "angle": 270, "dx": -13, "fontWeight": "bold", "fontSize": 9, "font": "Liberation Sans", "color": "#000000"}, "encoding": {"text": {"field": "y"}}},
  {"spacing": -0.5, "vconcat": [
   {"spacing": -2, "vconcat": [
    {"title": {"text": "Scenario 1", "anchor": "middle", "fontSize": 9.5, "offset": 4}, "data": {"values": [{"m":"complete","t":"Binary"},{"m":"10%","t":"Binary"},{"m":"20%","t":"Binary"}]}, "facet": {"column": {"field": "m", "sort": ["complete","10%","20%"], "header": null}}, "spacing": {"row": 0, "column": 4}, "spec": {"width": 176, "height": 14, "view": {"fill": "#D9D9D9", "stroke": "#595959"}, "mark": {"type": "text", "fontWeight": "bold", "fontSize": 9, "color": "#1A1A1A", "font": "Liberation Sans"}, "encoding": {"text": {"field": "t"}}}},
    {"data": {"values": [{"m":"complete","t":"complete"},{"m":"10%","t":"10%"},{"m":"20%","t":"20%"}]}, "facet": {"column": {"field": "m", "sort": ["complete","10%","20%"], "header": null}}, "spacing": {"row": 0, "column": 4}, "spec": {"width": 176, "height": 14, "view": {"fill": "#D9D9D9", "stroke": "#595959"}, "mark": {"type": "text", "fontWeight": "bold", "fontSize": 9, "color": "#1A1A1A", "font": "Liberation Sans"}, "encoding": {"text": {"field": "t"}}}},
    {"data": {"name": "s1B"}, "facet": {"column": {"field": "m", "sort": ["complete","10%","20%"], "header": null}}, "spacing": {"row": 0, "column": 4},
     "spec": {"width": 176, "height": 219,
      "encoding": {
       "x": {"field": "a", "type": "ordinal", "sort": ["0","0.05","0.1"], "scale": {"padding": 0.6}, "title": null, "axis": {"labels": false, "ticks": false, "domain": false, "grid": true, "tickSize": 0, "labelPadding": 0, "maxExtent": 0, "minExtent": 0}},
       "y": {"field": "v", "type": "quantitative", "scale": {"domain": [-0.04, 1.046], "nice": false, "zero": false}, "title": null, "axis": {"values": [0,0.125,0.25,0.375,0.5,0.625,0.75,0.875,1], "labelExpr": "(datum.value*8)%2==0 ? format(datum.value,'.2f') : ''", "tickColor": {"condition": {"test": "(datum.value*8)%2!=0", "value": "transparent"}, "value": "#333333"}, "gridWidth": {"condition": {"test": "(datum.value*8)%2!=0", "value": 0.5}, "value": 1}}},
       "color": {"field": "M", "type": "nominal", "title": "METHOD", "scale": {"domain": ["MO","MO(estimated tree)","SCITE","SiFit","SPhyR"], "range": ["#FF0000","#BEBEBE","#377EB8","#4DAF4A","#FFFF00"]}, "legend": {"symbolType": "stroke", "orient": "none", "legendX": 580, "legendY": 200}}
      },
      "layer": [
       {"mark": {"type": "line", "strokeWidth": 1.2}, "encoding": {"strokeDash": {"field": "b", "type": "nominal", "title": "beta", "scale": {"domain": ["0","0.1","0.25","0.5"], "range": [[1,0],[2.5,2.5],[5,3],[8,4]]}, "legend": {"orient": "none", "legendX": 580, "legendY": 274, "symbolStrokeColor": "#000000"}}}},
       {"transform": [{"filter": "datum.b != '0'"}], "mark": {"type": "point", "filled": true, "size": 14, "opacity": 1}, "encoding": {"shape": {"field": "b", "type": "nominal", "scale": {"domain": ["0.1","0.25","0.5"], "range": ["triangle-up","square","cross"]}, "legend": null}}}
      ]
     }
    }
   ]},
   {"spacing": -2, "vconcat": [
    {"data": {"values": [{"m":"complete","t":"Ternary"},{"m":"10%","t":"Ternary"},{"m":"20%","t":"Ternary"}]}, "facet": {"column": {"field": "m", "sort": ["complete","10%","20%"], "header": null}}, "spacing": {"row": 0, "column": 4}, "spec": {"width": 176, "height": 14, "view": {"fill": "#D9D9D9", "stroke": "#595959"}, "mark": {"type": "text", "fontWeight": "bold", "fontSize": 9, "color": "#1A1A1A", "font": "Liberation Sans"}, "encoding": {"text": {"field": "t"}}}},
    {"data": {"values": [{"m":"complete","t":"complete"},{"m":"10%","t":"10%"},{"m":"20%","t":"20%"}]}, "facet": {"column": {"field": "m", "sort": ["complete","10%","20%"], "header": null}}, "spacing": {"row": 0, "column": 4}, "spec": {"width": 176, "height": 14, "view": {"fill": "#D9D9D9", "stroke": "#595959"}, "mark": {"type": "text", "fontWeight": "bold", "fontSize": 9, "color": "#1A1A1A", "font": "Liberation Sans"}, "encoding": {"text": {"field": "t"}}}},
    {"title": {"text": "alpha", "orient": "bottom", "anchor": "middle", "fontSize": 9, "offset": 0}, "data": {"name": "s1T"}, "facet": {"column": {"field": "m", "sort": ["complete","10%","20%"], "header": null}}, "spacing": {"row": 0, "column": 4},
     "spec": {"width": 176, "height": 219,
      "encoding": {
       "x": {"field": "a", "type": "ordinal", "sort": ["0","0.05","0.1"], "scale": {"padding": 0.6}, "title": null, "axis": {"labelAngle": 0, "domain": false, "grid": true}},
       "y": {"field": "v", "type": "quantitative", "scale": {"domain": [-0.04, 1.046], "nice": false, "zero": false}, "title": null, "axis": {"values": [0,0.125,0.25,0.375,0.5,0.625,0.75,0.875,1], "labelExpr": "(datum.value*8)%2==0 ? format(datum.value,'.2f') : ''", "tickColor": {"condition": {"test": "(datum.value*8)%2!=0", "value": "transparent"}, "value": "#333333"}, "gridWidth": {"condition": {"test": "(datum.value*8)%2!=0", "value": 0.5}, "value": 1}}},
       "color": {"field": "M", "type": "nominal", "title": "METHOD", "scale": {"domain": ["MO","MO(estimated tree)","SCITE","SiFit","SPhyR"], "range": ["#FF0000","#BEBEBE","#377EB8","#4DAF4A","#FFFF00"]}, "legend": {"symbolType": "stroke", "orient": "none", "legendX": 580, "legendY": 200}}
      },
      "layer": [
       {"mark": {"type": "line", "strokeWidth": 1.2}, "encoding": {"strokeDash": {"field": "b", "type": "nominal", "title": "beta", "scale": {"domain": ["0","0.1","0.25","0.5"], "range": [[1,0],[2.5,2.5],[5,3],[8,4]]}, "legend": {"orient": "none", "legendX": 580, "legendY": 274, "symbolStrokeColor": "#000000"}}}},
       {"transform": [{"filter": "datum.b != '0'"}], "mark": {"type": "point", "filled": true, "size": 14, "opacity": 1}, "encoding": {"shape": {"field": "b", "type": "nominal", "scale": {"domain": ["0.1","0.25","0.5"], "range": ["triangle-up","square","cross"]}, "legend": null}}}
      ]
     }
    }
   ]}
  ]}
 ]
},
{
 "spacing": -7,
 "hconcat": [
  {"title": {"text": "B", "anchor": "start", "fontSize": 20, "offset": 14, "dx": -6}, "width": 16, "height": 497, "view": {"stroke": null}, "data": {"values": [{"y": "Accuracy of predicted mutation order for adjacent pairs"}]}, "mark": {"type": "text", "angle": 270, "dx": -13, "fontWeight": "bold", "fontSize": 9, "font": "Liberation Sans", "color": "#000000"}, "encoding": {"text": {"field": "y"}}},
  {"spacing": -0.5, "vconcat": [
   {"spacing": -2, "vconcat": [
    {"title": {"text": "Scenario 2", "anchor": "middle", "fontSize": 9.5, "offset": 4}, "data": {"values": [{"m":"complete","t":"Binary"},{"m":"10%","t":"Binary"},{"m":"20%","t":"Binary"}]}, "facet": {"column": {"field": "m", "sort": ["complete","10%","20%"], "header": null}}, "spacing": {"row": 0, "column": 4}, "spec": {"width": 176, "height": 13.5, "view": {"fill": "#D9D9D9", "stroke": "#595959"}, "mark": {"type": "text", "fontWeight": "bold", "fontSize": 9, "color": "#1A1A1A", "font": "Liberation Sans"}, "encoding": {"text": {"field": "t"}}}},
    {"data": {"values": [{"m":"complete","t":"complete"},{"m":"10%","t":"10%"},{"m":"20%","t":"20%"}]}, "facet": {"column": {"field": "m", "sort": ["complete","10%","20%"], "header": null}}, "spacing": {"row": 0, "column": 4}, "spec": {"width": 176, "height": 13.5, "view": {"fill": "#D9D9D9", "stroke": "#595959"}, "mark": {"type": "text", "fontWeight": "bold", "fontSize": 9, "color": "#1A1A1A", "font": "Liberation Sans"}, "encoding": {"text": {"field": "t"}}}},
    {"data": {"name": "s2B"}, "facet": {"column": {"field": "m", "sort": ["complete","10%","20%"], "header": null}}, "spacing": {"row": 0, "column": 4},
     "spec": {"width": 176, "height": 219,
      "encoding": {
       "x": {"field": "a", "type": "ordinal", "sort": ["0","0.05","0.1"], "scale": {"padding": 0.6}, "title": null, "axis": {"labels": false, "ticks": false, "domain": false, "grid": true, "tickSize": 0, "labelPadding": 0, "maxExtent": 0, "minExtent": 0}},
       "y": {"field": "v", "type": "quantitative", "scale": {"domain": [0.072, 1.044], "nice": false, "zero": false}, "title": null, "axis": {"values": [0.125,0.25,0.375,0.5,0.625,0.75,0.875,1], "labelExpr": "(datum.value*8)%2==0 ? format(datum.value,'.2f') : ''", "tickColor": {"condition": {"test": "(datum.value*8)%2!=0", "value": "transparent"}, "value": "#333333"}, "gridWidth": {"condition": {"test": "(datum.value*8)%2!=0", "value": 0.5}, "value": 1}}},
       "color": {"field": "M", "type": "nominal", "title": "METHOD", "scale": {"domain": ["MO","MO(estimated tree)","SCITE","SiFit","SPhyR"], "range": ["#FF0000","#BEBEBE","#377EB8","#4DAF4A","#FFFF00"]}, "legend": {"symbolType": "stroke", "orient": "none", "legendX": 580, "legendY": 196}}
      },
      "layer": [
       {"mark": {"type": "line", "strokeWidth": 1.2}, "encoding": {"strokeDash": {"field": "b", "type": "nominal", "title": "beta", "scale": {"domain": ["0","0.1","0.25","0.5"], "range": [[1,0],[2.5,2.5],[5,3],[8,4]]}, "legend": {"orient": "none", "legendX": 580, "legendY": 270, "symbolStrokeColor": "#000000"}}}},
       {"transform": [{"filter": "datum.b != '0'"}], "mark": {"type": "point", "filled": true, "size": 14, "opacity": 1}, "encoding": {"shape": {"field": "b", "type": "nominal", "scale": {"domain": ["0.1","0.25","0.5"], "range": ["triangle-up","square","cross"]}, "legend": null}}}
      ]
     }
    }
   ]},
   {"spacing": -2, "vconcat": [
    {"data": {"values": [{"m":"complete","t":"Ternary"},{"m":"10%","t":"Ternary"},{"m":"20%","t":"Ternary"}]}, "facet": {"column": {"field": "m", "sort": ["complete","10%","20%"], "header": null}}, "spacing": {"row": 0, "column": 4}, "spec": {"width": 176, "height": 13.5, "view": {"fill": "#D9D9D9", "stroke": "#595959"}, "mark": {"type": "text", "fontWeight": "bold", "fontSize": 9, "color": "#1A1A1A", "font": "Liberation Sans"}, "encoding": {"text": {"field": "t"}}}},
    {"data": {"values": [{"m":"complete","t":"complete"},{"m":"10%","t":"10%"},{"m":"20%","t":"20%"}]}, "facet": {"column": {"field": "m", "sort": ["complete","10%","20%"], "header": null}}, "spacing": {"row": 0, "column": 4}, "spec": {"width": 176, "height": 13.5, "view": {"fill": "#D9D9D9", "stroke": "#595959"}, "mark": {"type": "text", "fontWeight": "bold", "fontSize": 9, "color": "#1A1A1A", "font": "Liberation Sans"}, "encoding": {"text": {"field": "t"}}}},
    {"title": {"text": "alpha", "orient": "bottom", "anchor": "middle", "fontSize": 9, "offset": 0}, "data": {"name": "s2T"}, "facet": {"column": {"field": "m", "sort": ["complete","10%","20%"], "header": null}}, "spacing": {"row": 0, "column": 4},
     "spec": {"width": 176, "height": 219,
      "encoding": {
       "x": {"field": "a", "type": "ordinal", "sort": ["0","0.05","0.1"], "scale": {"padding": 0.6}, "title": null, "axis": {"labelAngle": 0, "domain": false, "grid": true}},
       "y": {"field": "v", "type": "quantitative", "scale": {"domain": [0.072, 1.044], "nice": false, "zero": false}, "title": null, "axis": {"values": [0.125,0.25,0.375,0.5,0.625,0.75,0.875,1], "labelExpr": "(datum.value*8)%2==0 ? format(datum.value,'.2f') : ''", "tickColor": {"condition": {"test": "(datum.value*8)%2!=0", "value": "transparent"}, "value": "#333333"}, "gridWidth": {"condition": {"test": "(datum.value*8)%2!=0", "value": 0.5}, "value": 1}}},
       "color": {"field": "M", "type": "nominal", "title": "METHOD", "scale": {"domain": ["MO","MO(estimated tree)","SCITE","SiFit","SPhyR"], "range": ["#FF0000","#BEBEBE","#377EB8","#4DAF4A","#FFFF00"]}, "legend": {"symbolType": "stroke", "orient": "none", "legendX": 580, "legendY": 196}}
      },
      "layer": [
       {"mark": {"type": "line", "strokeWidth": 1.2}, "encoding": {"strokeDash": {"field": "b", "type": "nominal", "title": "beta", "scale": {"domain": ["0","0.1","0.25","0.5"], "range": [[1,0],[2.5,2.5],[5,3],[8,4]]}, "legend": {"orient": "none", "legendX": 580, "legendY": 270, "symbolStrokeColor": "#000000"}}}},
       {"transform": [{"filter": "datum.b != '0'"}], "mark": {"type": "point", "filled": true, "size": 14, "opacity": 1}, "encoding": {"shape": {"field": "b", "type": "nominal", "scale": {"domain": ["0.1","0.25","0.5"], "range": ["triangle-up","square","cross"]}, "legend": null}}}
      ]
     }
    }
   ]}
  ]}
 ]
}
]
}
